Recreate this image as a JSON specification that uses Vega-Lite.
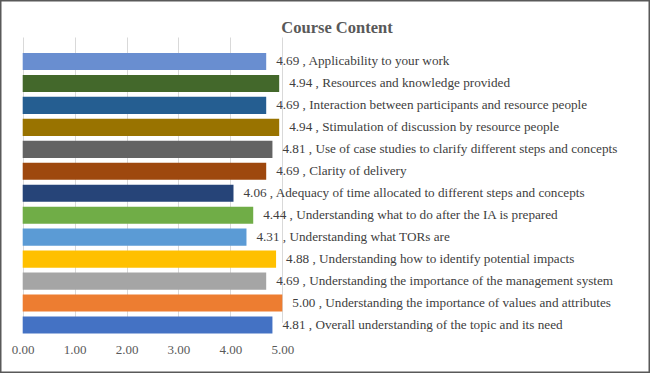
{
  "$schema": "https://vega.github.io/schema/vega-lite/v6.json",
  "width": 650,
  "height": 373,
  "padding": 0,
  "autosize": {"type": "none"},
  "background": "white",
  "config": {
    "view": {"stroke": "#595959", "strokeWidth": 3},
    "font": "Liberation Serif"
  },
  "title": {
    "text": "Course Content",
    "anchor": "middle",
    "frame": "group",
    "font": "Liberation Serif",
    "fontSize": 16.5,
    "fontWeight": "bold",
    "color": "#595959",
    "dx": 12,
    "dy": 40
  },
  "data": {
    "values": [
      {"item": "Applicability to your work", "score": 4.69, "label": "4.69 , Applicability to your work"},
      {"item": "Resources and knowledge provided", "score": 4.94, "label": "4.94 , Resources and knowledge provided"},
      {"item": "Interaction between participants and resource people", "score": 4.69, "label": "4.69 , Interaction between participants and resource people"},
      {"item": "Stimulation of discussion by resource people", "score": 4.94, "label": "4.94 , Stimulation of discussion by resource people"},
      {"item": "Use of case studies to clarify different steps and concepts", "score": 4.81, "label": "4.81 , Use of case studies to clarify different steps and concepts"},
      {"item": "Clarity of delivery", "score": 4.69, "label": "4.69 , Clarity of delivery"},
      {"item": "Adequacy of time allocated to different steps and concepts", "score": 4.06, "label": "4.06 , Adequacy of time allocated to different steps and concepts"},
      {"item": "Understanding what to do after the IA is prepared", "score": 4.44, "label": "4.44 , Understanding what to do after the IA is prepared"},
      {"item": "Understanding what TORs are", "score": 4.31, "label": "4.31 , Understanding what TORs are"},
      {"item": "Understanding how to identify potential impacts", "score": 4.88, "label": "4.88 , Understanding how to identify potential impacts"},
      {"item": "Understanding the importance of the management system", "score": 4.69, "label": "4.69 , Understanding the importance of the management system"},
      {"item": "Understanding the importance of values and attributes", "score": 5.00, "label": "5.00 , Understanding the importance of values and attributes"},
      {"item": "Overall understanding of the topic and its need", "score": 4.81, "label": "4.81 , Overall understanding of the topic and its need"}
    ]
  },
  "encoding": {
    "y": {
      "field": "item",
      "type": "nominal",
      "sort": null,
      "scale": {"range": [50.5, 336], "paddingInner": 0.22, "paddingOuter": 0.11},
      "axis": null
    },
    "x": {
      "field": "score",
      "type": "quantitative",
      "scale": {"domain": [0, 5], "range": [22.7, 282.3], "nice": false},
      "axis": {
        "orient": "bottom",
        "offset": -37,
        "values": [0, 1, 2, 3, 4, 5],
        "format": ".2f",
        "domain": false,
        "ticks": false,
        "tickSize": 0,
        "labelPadding": 7,
        "labelFlush": false,
        "labelFont": "Liberation Serif",
        "labelFontSize": 13,
        "labelColor": "#595959",
        "grid": true,
        "gridColor": "#D9D9D9",
        "gridWidth": 1,
        "title": null
      }
    }
  },
  "layer": [
    {
      "mark": {"type": "bar"},
      "encoding": {
        "color": {
          "field": "item",
          "type": "nominal",
          "legend": null,
          "scale": {
            "domain": [
              "Applicability to your work",
              "Resources and knowledge provided",
              "Interaction between participants and resource people",
              "Stimulation of discussion by resource people",
              "Use of case studies to clarify different steps and concepts",
              "Clarity of delivery",
              "Adequacy of time allocated to different steps and concepts",
              "Understanding what to do after the IA is prepared",
              "Understanding what TORs are",
              "Understanding how to identify potential impacts",
              "Understanding the importance of the management system",
              "Understanding the importance of values and attributes",
              "Overall understanding of the topic and its need"
            ],
            "range": ["#698ED0", "#43682B", "#255E91", "#997300", "#636363", "#9E480E", "#264478", "#70AD47", "#5B9BD5", "#FFC000", "#A5A5A5", "#ED7D31", "#4472C4"]
          }
        }
      }
    },
    {
      "mark": {"type": "text", "align": "left", "baseline": "middle", "dx": 10, "font": "Liberation Serif", "fontSize": 13.2, "color": "#404040"},
      "encoding": {"text": {"field": "label"}}
    }
  ]
}
